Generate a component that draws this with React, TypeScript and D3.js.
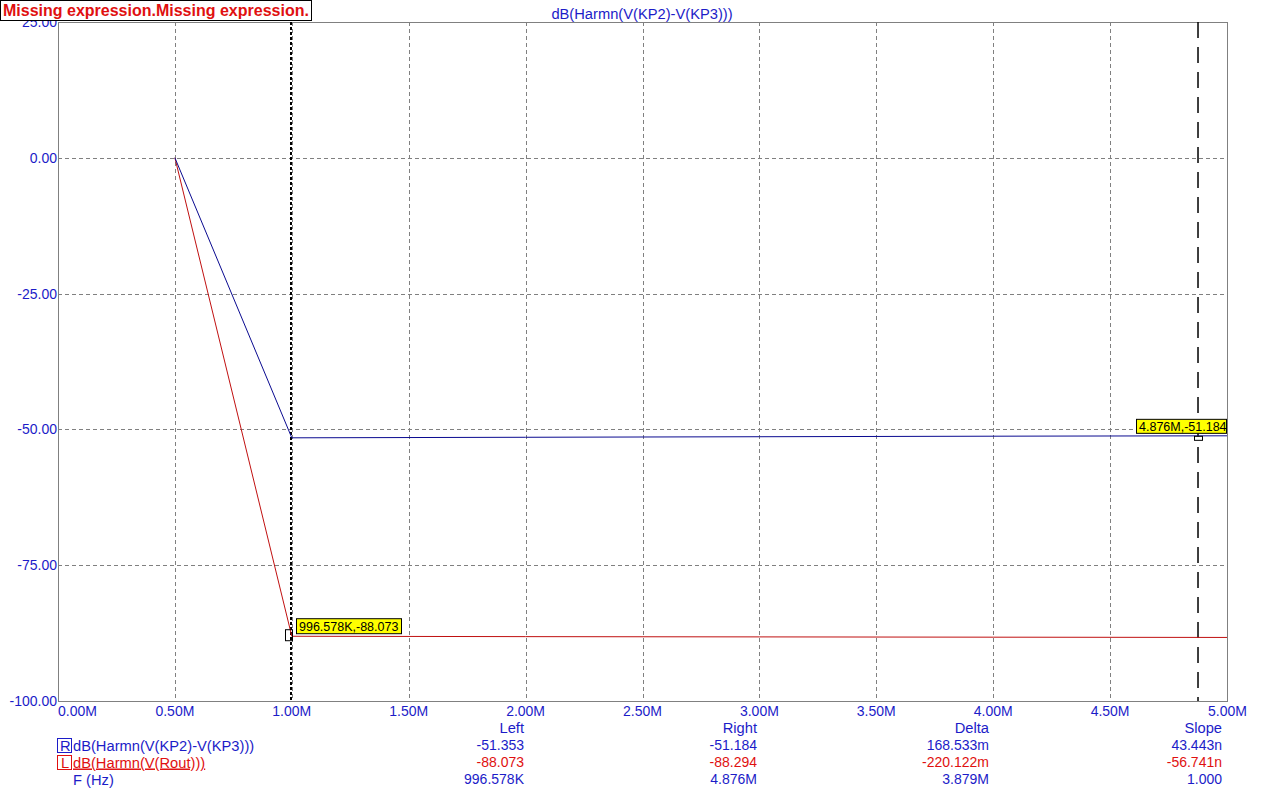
import React from "react";
import * as d3 from "d3";

const xTicks = [0, 0.5e6, 1e6, 1.5e6, 2e6, 2.5e6, 3e6, 3.5e6, 4e6, 4.5e6, 5e6];
const yTicks = [25, 0, -25, -50, -75, -100];
const blueF = [0.5e6, 1.0e6, 2.0e6, 3.0e6, 4.0e6, 5.0e6];
const blueV = [0, -51.55, -51.45, -51.35, -51.25, -51.18];
const redF = [0.5e6, 1.0e6, 2.0e6, 3.0e6, 4.0e6, 5.0e6];
const redV = [0, -88.08, -88.15, -88.2, -88.25, -88.3];
const leftCursor = { f: 996578, v: -88.073, label: "996.578K,-88.073" };
const rightCursor = { f: 4876000, v: -51.184, label: "4.876M,-51.184" };
const tableHeaders = ["Left", "Right", "Delta", "Slope"];
const rowR = ["-51.353", "-51.184", "168.533m", "43.443n"];
const rowL = ["-88.073", "-88.294", "-220.122m", "-56.741n"];
const rowF = ["996.578K", "4.876M", "3.879M", "1.000"];

const W = 1267, H = 801;
const L = 58, R = 1227, T = 22, B = 701;
const FONT = "'Liberation Sans', Arial, sans-serif";
const TXT_BLUE = "#1c1cc8";
const TXT_RED = "#e01010";
const LINE_BLUE = "#0a0a90";
const LINE_RED = "#c01010";
const GRID = "#808080";
const FS = 14;
const FS_L = 14.7;

export default function App() {
  const x = d3.scaleLinear().domain([0, 5e6]).range([L, R]);
  const y = d3.scaleLinear().domain([-100, 25]).range([B, T]);
  const line = d3.line<[number, number]>().x(d => x(d[0])).y(d => y(d[1]));
  const blue = line(blueF.map((f, i) => [f, blueV[i]] as [number, number])) || "";
  const red = line(redF.map((f, i) => [f, redV[i]] as [number, number])) || "";
  const fmtX = (v: number) => (v / 1e6).toFixed(2) + "M";
  const fmtY = (v: number) => v.toFixed(2);
  const colX = [524, 757, 989, 1222];
  const lx = x(leftCursor.f), ly = y(leftCursor.v);
  const rx = x(rightCursor.f), ry = y(rightCursor.v);

  return (
    <div style={{ position: "fixed", left: 0, top: 0, width: W, height: H, background: "#fff" }}>
      <svg width={W} height={H} style={{ display: "block" }} fontFamily={FONT}>
        <rect x={0} y={0} width={W} height={H} fill="#fff" />
        {/* grid */}
        {xTicks.slice(1, -1).map(t => (
          <line key={"gx" + t} x1={Math.round(x(t)) + 0.5} x2={Math.round(x(t)) + 0.5} y1={T} y2={B} stroke={GRID} strokeDasharray="4,3" strokeWidth={1} />
        ))}
        {yTicks.slice(1, -1).map(t => (
          <line key={"gy" + t} x1={L} x2={R} y1={Math.round(y(t)) + 0.5} y2={Math.round(y(t)) + 0.5} stroke={GRID} strokeDasharray="4,3" strokeWidth={1} />
        ))}
        {/* frame */}
        <rect x={L + 0.5} y={T + 0.5} width={R - L} height={B - T} fill="none" stroke={GRID} strokeWidth={1} />
        {/* cursors */}
        <line x1={lx} x2={lx} y1={T} y2={B} stroke="#000" strokeWidth={2} strokeDasharray="3,2" />
        <line x1={rx} x2={rx} y1={T} y2={B} stroke="#000" strokeWidth={1.5} strokeDasharray="16,9" />
        {/* series */}
        <path d={red} fill="none" stroke={LINE_RED} strokeWidth={1} />
        <path d={blue} fill="none" stroke={LINE_BLUE} strokeWidth={1} />
        {/* markers */}
        <rect x={lx - 5.5} y={ly - 6.5} width={7} height={11} fill="none" stroke="#000" strokeWidth={1} />
        <rect x={rx - 3.5} y={ry + 0.5} width={8} height={4} fill="#fff" stroke="#000" strokeWidth={1} />
        {/* cursor labels */}
        <g>
          <rect x={lx + 5.5} y={ly - 17.5} width={105} height={15} fill="#ffff00" stroke="#000" strokeWidth={1} />
          <text x={lx + 8} y={ly - 5.5} fontSize={12.5} fill="#000">{leftCursor.label}</text>
        </g>
        <g>
          <rect x={rx - 61.5} y={ry - 16.5} width={90} height={14} fill="#ffff00" stroke="#000" strokeWidth={1} />
          <text x={rx - 59} y={ry - 5} fontSize={12.5} fill="#000">{rightCursor.label}</text>
        </g>
        {/* y tick labels */}
        {yTicks.map(t => (
          <text key={"yl" + t} x={L - 1} y={y(t) + 5} fontSize={FS} fill={TXT_BLUE} textAnchor="end">{fmtY(t)}</text>
        ))}
        {/* x tick labels */}
        {xTicks.map((t, i) => (
          <text key={"xl" + t} x={i === 0 ? L : i === xTicks.length - 1 ? R + 20 : x(t)} y={716} fontSize={FS} fill={TXT_BLUE}
            textAnchor={i === 0 ? "start" : i === xTicks.length - 1 ? "end" : "middle"}>{fmtX(t)}</text>
        ))}
        {/* title */}
        <text x={642} y={19} fontSize={FS_L} fill={TXT_BLUE} textAnchor="middle">dB(Harmn(V(KP2)-V(KP3)))</text>
        <rect x={0.5} y={0.5} width={311} height={20} fill="#fff" stroke="#000" strokeWidth={1} />
        <text x={3} y={16} fontSize={16} fontWeight="bold" fill={TXT_RED}>Missing expression.Missing expression.</text>
        {/* table */}
        {tableHeaders.map((h, i) => (
          <text key={"th" + h} x={colX[i]} y={733} fontSize={FS_L} fill={TXT_BLUE} textAnchor="end">{h}</text>
        ))}
        {rowR.map((v, i) => (
          <text key={"rr" + i} x={colX[i]} y={750} fontSize={FS} fill={TXT_BLUE} textAnchor="end">{v}</text>
        ))}
        {rowL.map((v, i) => (
          <text key={"rl" + i} x={colX[i]} y={767} fontSize={FS} fill={TXT_RED} textAnchor="end">{v}</text>
        ))}
        {rowF.map((v, i) => (
          <text key={"rf" + i} x={colX[i]} y={784} fontSize={FS} fill={TXT_BLUE} textAnchor="end">{v}</text>
        ))}
        {/* legend */}
        <rect x={57.5} y={738.5} width={14} height={14} fill="none" stroke={TXT_BLUE} strokeWidth={1} />
        <text x={60} y={750.5} fontSize={FS_L} fill={TXT_BLUE}>R</text>
        <text x={73} y={750.5} fontSize={FS_L} fill={TXT_BLUE}>dB(Harmn(V(KP2)-V(KP3)))</text>
        <rect x={57.5} y={755.5} width={14} height={14} fill="none" stroke={TXT_RED} strokeWidth={1} />
        <text x={61} y={767.5} fontSize={FS_L} fill={TXT_RED}>L</text>
        <text x={73} y={767.5} fontSize={FS_L} fill={TXT_RED} textDecoration="underline">dB(Harmn(V(Rout)))</text>
        <text x={73} y={784.5} fontSize={FS_L} fill={TXT_BLUE}>F (Hz)</text>
      </svg>
    </div>
  );
}
